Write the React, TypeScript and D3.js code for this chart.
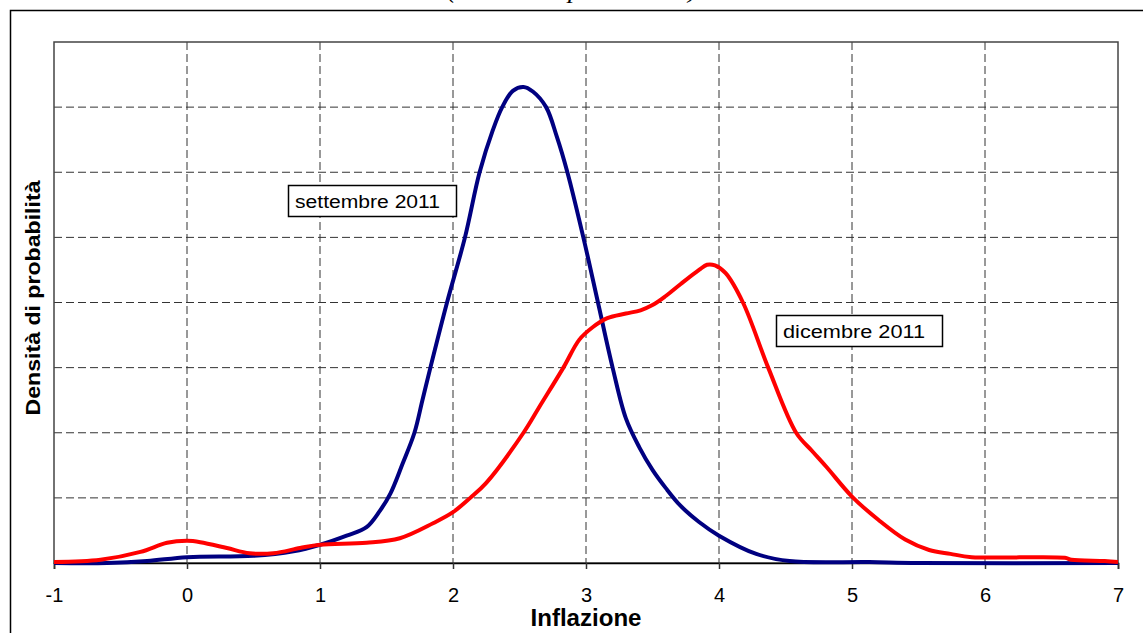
import React, { useEffect, useRef } from 'react';
import * as d3 from 'd3';

const xTicks = [-1, 0, 1, 2, 3, 4, 5, 6, 7];
const yGrid = [0.1, 0.2, 0.3, 0.4, 0.5, 0.6, 0.7];

// settembre 2011
const setX = [-1, -0.6, -0.3, 0, 0.5, 0.8, 1.0, 1.2, 1.35, 1.45, 1.53, 1.62, 1.71, 1.77, 1.83, 1.955, 2.09, 2.2, 2.3, 2.37, 2.45, 2.53, 2.6, 2.7, 2.78, 2.86, 2.98, 3.09, 3.2, 3.3, 3.4, 3.5, 3.6, 3.71, 3.85, 4.0, 4.28, 4.53, 5.13, 5.5, 7];
const setY = [0, 0, 0.003, 0.009, 0.011, 0.018, 0.028, 0.042, 0.055, 0.08, 0.107, 0.152, 0.2, 0.25, 0.3, 0.4, 0.5, 0.6, 0.665, 0.7, 0.725, 0.731, 0.724, 0.7, 0.655, 0.6, 0.5, 0.4, 0.3, 0.222, 0.178, 0.143, 0.115, 0.088, 0.063, 0.042, 0.014, 0.003, 0.0015, 0, 0];

// dicembre 2011
const dicX = [-1, -0.65, -0.35, -0.15, 0, 0.1, 0.3, 0.47, 0.65, 0.85, 1.0, 1.35, 1.6, 1.85, 2.0, 2.13, 2.25, 2.53, 2.65, 2.83, 2.95, 3.05, 3.16, 3.3, 3.41, 3.5, 3.6, 3.71, 3.85, 3.91, 3.97, 4.05, 4.18, 4.37, 4.58, 4.7, 4.81, 5.0, 5.2, 5.4, 5.58, 5.74, 5.9, 6.6, 6.65, 6.9, 7.0];
const dicY = [0.0015, 0.005, 0.017, 0.031, 0.034, 0.032, 0.023, 0.015, 0.015, 0.023, 0.028, 0.031, 0.038, 0.061, 0.078, 0.1, 0.123, 0.2, 0.24, 0.3, 0.343, 0.362, 0.376, 0.383, 0.388, 0.396, 0.41, 0.428, 0.45, 0.458, 0.457, 0.445, 0.4, 0.3, 0.2, 0.172, 0.147, 0.102, 0.066, 0.036, 0.02, 0.014, 0.009, 0.008, 0.005, 0.003, 0.0015];

const App: React.FC = () => {
  const svgRef = useRef<SVGSVGElement | null>(null);

  useEffect(() => {
    if (!svgRef.current) return;
    const svg = d3.select(svgRef.current);
    svg.selectAll('*').remove();

    const left = 54;
    const right = 1118;
    const top = 42;
    const bottom = 563;
    const sans = 'Arial, "Liberation Sans", sans-serif';

    const x = d3.scaleLinear().domain([-1, 7]).range([left, right]);
    const y = d3.scaleLinear().domain([0, 0.8]).range([bottom, top]);

    // outer frame (runs past the page edge)
    svg.append('rect')
      .attr('x', 10.5).attr('y', 10.5)
      .attr('width', 1150).attr('height', 650)
      .attr('fill', 'white').attr('stroke', '#000').attr('stroke-width', 1.5);

    // title, cut at the top of the page
    svg.append('text')
      .attr('x', 447).attr('y', -2)
      .attr('textLength', 250).attr('lengthAdjust', 'spacingAndGlyphs')
      .attr('font-family', '"Liberation Serif", "Times New Roman", serif')
      .attr('font-style', 'italic').attr('font-size', 24)
      .text('(densità di probabilità)');

    // grid
    const grid = svg.append('g')
      .attr('stroke', '#333').attr('stroke-width', 1).attr('stroke-dasharray', '8,4');
    grid.selectAll('.hg').data(yGrid).enter().append('line')
      .attr('x1', left).attr('x2', right)
      .attr('y1', (d) => y(d)).attr('y2', (d) => y(d));
    grid.selectAll('.vg').data(xTicks.slice(1, -1)).enter().append('line')
      .attr('x1', (d) => x(d)).attr('x2', (d) => x(d))
      .attr('y1', top).attr('y2', bottom);

    // plot border
    svg.append('rect')
      .attr('x', left).attr('y', top)
      .attr('width', right - left).attr('height', bottom - top)
      .attr('fill', 'none').attr('stroke', '#444').attr('stroke-width', 1.5);

    // x axis
    const xAxis = svg.append('g').attr('transform', `translate(0,${bottom})`)
      .call(d3.axisBottom(x).tickValues(xTicks).tickSize(6).tickFormat((d) => String(d)));
    xAxis.select('.domain').attr('stroke', '#000').attr('stroke-width', 1.5);
    xAxis.selectAll('.tick line').attr('stroke', '#333').attr('stroke-width', 1.5);
    xAxis.selectAll('.tick text')
      .attr('font-family', sans).attr('font-size', 20).attr('fill', '#000')
      .attr('dy', null).attr('y', 39);

    const line = d3.line<number>()
      .x((d) => x(d))
      .curve(d3.curveCatmullRom.alpha(0.5));

    svg.append('path')
      .attr('d', line.y((_, i) => y(setY[i]))(setX))
      .attr('fill', 'none').attr('stroke', '#000080').attr('stroke-width', 4);

    svg.append('path')
      .attr('d', line.y((_, i) => y(dicY[i]))(dicX))
      .attr('fill', 'none').attr('stroke', '#ff0000').attr('stroke-width', 4);

    // series labels
    const labels = [
      { text: 'settembre 2011', x: 288, y: 185, w: 168, h: 31, tl: 145 },
      { text: 'dicembre 2011', x: 776, y: 315, w: 166, h: 31, tl: 142 },
    ];
    labels.forEach((l) => {
      svg.append('rect')
        .attr('x', l.x + 0.5).attr('y', l.y + 0.5)
        .attr('width', l.w).attr('height', l.h)
        .attr('fill', 'white').attr('stroke', '#000').attr('stroke-width', 1.5);
      svg.append('text')
        .attr('x', l.x + 7).attr('y', l.y + 23)
        .attr('textLength', l.tl).attr('lengthAdjust', 'spacingAndGlyphs')
        .attr('font-family', sans).attr('font-size', 18)
        .text(l.text);
    });

    // axis titles
    svg.append('text')
      .attr('x', x(3)).attr('y', 626)
      .attr('text-anchor', 'middle')
      .attr('textLength', 111).attr('lengthAdjust', 'spacingAndGlyphs')
      .attr('font-family', sans).attr('font-weight', 'bold').attr('font-size', 23)
      .text('Inflazione');

    svg.append('text')
      .attr('transform', 'translate(40,298) rotate(-90)')
      .attr('text-anchor', 'middle')
      .attr('textLength', 235).attr('lengthAdjust', 'spacingAndGlyphs')
      .attr('font-family', sans).attr('font-weight', 'bold').attr('font-size', 21)
      .text('Densità di probabilità');
  }, []);

  return (
    <svg
      ref={svgRef}
      width={1143}
      height={633}
      style={{ position: 'absolute', left: 0, top: 0, background: 'white' }}
    ></svg>
  );
};

export default App;
